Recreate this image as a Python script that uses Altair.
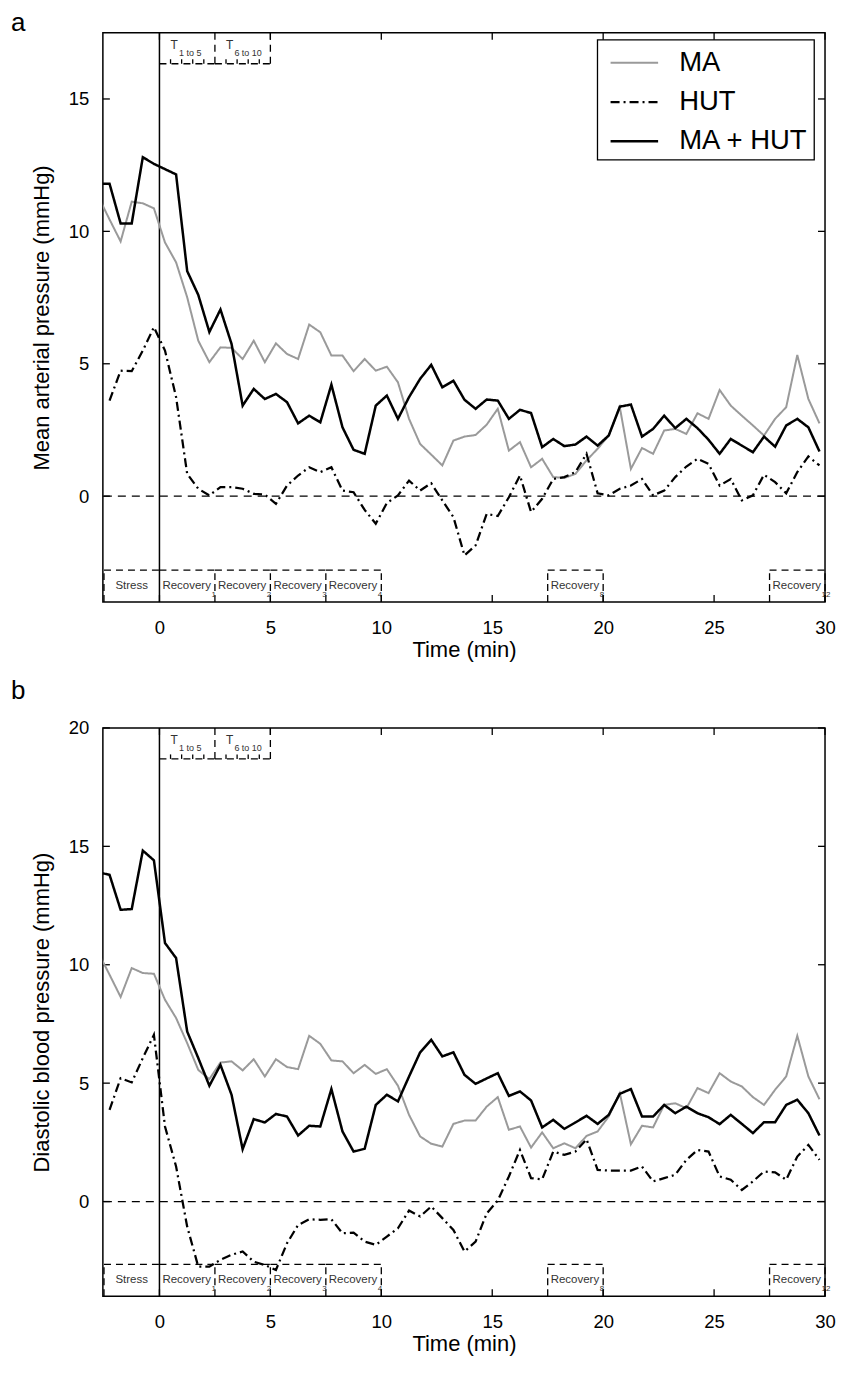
import altair as alt
import pandas as pd

FONT = "Liberation Sans"

# ---------------- data ----------------
time_min = [-2.75, -2.25, -1.75, -1.25, -0.75, -0.25, 0.25, 0.75, 1.25, 1.75,
            2.25, 2.75, 3.25, 3.75, 4.25, 4.75, 5.25, 5.75, 6.25, 6.75,
            7.25, 7.75, 8.25, 8.75, 9.25, 9.75, 10.25, 10.75, 11.25, 11.75,
            12.25, 12.75, 13.25, 13.75, 14.25, 14.75, 15.25, 15.75, 16.25, 16.75,
            17.25, 17.75, 18.25, 18.75, 19.25, 19.75, 20.25, 20.75, 21.25, 21.75,
            22.25, 22.75, 23.25, 23.75, 24.25, 24.75, 25.25, 25.75, 26.25, 26.75,
            27.25, 27.75, 28.25, 28.75, 29.25, 29.75]

# panel a: mean arterial pressure (mmHg)
ma_a = [11.3, 10.45, 9.62, 11.12, 11.06, 10.87, 9.58, 8.83, 7.51, 5.87,
        5.06, 5.62, 5.6, 5.18, 5.87, 5.06, 5.77, 5.37, 5.18, 6.48,
        6.19, 5.31, 5.31, 4.72, 5.18, 4.74, 4.89, 4.3, 2.92, 1.97,
        1.57, 1.16, 2.1, 2.25, 2.31, 2.7, 3.3, 1.72, 2.04, 1.09,
        1.41, 0.72, 0.69, 0.84, 1.35, 1.79, 2.29, 3.36, 1.03, 1.82,
        1.6, 2.48, 2.54, 2.35, 3.13, 2.92, 4.01, 3.42, 3.04, 2.67,
        2.29, 2.92, 3.36, 5.33, 3.67, 2.75]
hut_a = [None, 3.61, 4.74, 4.72, 5.5, 6.38, 5.5, 3.74, 0.84, 0.28,
         0.03, 0.34, 0.34, 0.28, 0.09, 0.06, -0.29, 0.4, 0.78, 1.09,
         0.91, 1.09, 0.21, 0.15, -0.52, -1.04, -0.26, 0.03, 0.59, 0.21,
         0.49, -0.16, -0.79, -2.24, -1.86, -0.67, -0.75, -0.04, 0.78, -0.6,
         -0.1, 0.65, 0.72, 0.91, 1.6, 0.11, 0.03, 0.28, 0.4, 0.65,
         0.03, 0.21, 0.72, 1.12, 1.41, 1.22, 0.4, 0.65, -0.16, 0.03,
         0.81, 0.53, 0.11, 0.91, 1.5, 1.16]
both_a = [11.8, 11.8, 10.3, 10.3, 12.8, 12.55, 12.35, 12.15, 8.5, 7.6,
          6.2, 7.05, 5.75, 3.42, 4.05, 3.67, 3.86, 3.55, 2.75, 3.04,
          2.79, 4.21, 2.6, 1.75, 1.6, 3.42, 3.8, 2.92, 3.74, 4.43,
          4.96, 4.11, 4.36, 3.64, 3.3, 3.65, 3.61, 2.92, 3.26, 3.14,
          1.85, 2.16, 1.89, 1.95, 2.25, 1.91, 2.29, 3.38, 3.46, 2.25,
          2.54, 3.04, 2.57, 2.92, 2.57, 2.13, 1.6, 2.16, 1.91, 1.66,
          2.25, 1.87, 2.67, 2.92, 2.6, 1.69]

# panel b: diastolic blood pressure (mmHg)
ma_b = [10.5, 9.58, 8.64, 9.86, 9.65, 9.62, 8.52, 7.75, 6.69, 5.56,
        5.17, 5.87, 5.92, 5.54, 6.01, 5.28, 6.01, 5.68, 5.59, 7.0,
        6.66, 5.96, 5.92, 5.42, 5.77, 5.39, 5.59, 4.89, 3.66, 2.75,
        2.44, 2.32, 3.28, 3.42, 3.42, 4.01, 4.41, 3.03, 3.17, 2.28,
        2.92, 2.25, 2.46, 2.25, 2.77, 2.96, 3.59, 4.58, 2.42, 3.2,
        3.13, 4.08, 4.15, 3.94, 4.79, 4.58, 5.42, 5.07, 4.86, 4.41,
        4.08, 4.72, 5.28, 7.0, 5.28, 4.32]
hut_b = [None, 3.87, 5.21, 5.03, 6.06, 7.04, 3.17, 1.48, -1.06, -2.75,
         -2.75, -2.46, -2.25, -2.11, -2.54, -2.68, -2.89, -1.76, -0.99, -0.75,
         -0.77, -0.75, -1.34, -1.31, -1.69, -1.83, -1.48, -1.13, -0.38, -0.63,
         -0.21, -0.7, -1.2, -2.11, -1.69, -0.5, 0.04, 1.06, 2.18, 0.99,
         0.94, 2.11, 1.97, 2.11, 2.63, 1.34, 1.31, 1.31, 1.31, 1.48,
         0.85, 0.99, 1.13, 1.76, 2.18, 2.11, 1.06, 0.92, 0.49, 0.85,
         1.27, 1.23, 0.92, 1.9, 2.39, 1.76]
both_b = [13.9, 13.8, 12.32, 12.35, 14.82, 14.41, 10.92, 10.28, 7.18, 6.06,
          4.89, 5.77, 4.51, 2.21, 3.48, 3.34, 3.7, 3.59, 2.79, 3.2,
          3.17, 4.75, 2.96, 2.11, 2.23, 4.08, 4.51, 4.23, 5.28, 6.3,
          6.83, 6.13, 6.3, 5.35, 4.97, 5.2, 5.42, 4.46, 4.65, 4.27,
          3.13, 3.45, 3.07, 3.34, 3.62, 3.28, 3.66, 4.55, 4.75, 3.59,
          3.59, 4.08, 3.73, 4.01, 3.73, 3.56, 3.27, 3.66, 3.28, 2.89,
          3.35, 3.35, 4.08, 4.3, 3.73, 2.79]

series_names = ["MA", "HUT", "MA + HUT"]
series_colors = ["#9a9a9a", "#000000", "#000000"]
series_dash = [[1, 0], [9, 4, 2, 4], [1, 0]]
series_width = [2.0, 2.5, 2.1]

phase_start = [-2.5, 0, 2.5, 5, 7.5, 17.5, 27.5]
phase_end = [0, 2.5, 5, 7.5, 10, 20, 30]
phase_label = ["Stress", "Recovery", "Recovery", "Recovery", "Recovery", "Recovery", "Recovery"]
phase_sub = ["", "1", "2", "3", "4", "8", "12"]

tblock_start = [0, 2.5]
tblock_end = [2.5, 5]
tblock_sub = ["1 to 5", "6 to 10"]
t_subticks = [0.5, 1.0, 1.5, 2.0, 3.0, 3.5, 4.0, 4.5]

x_ticks = [0, 5, 10, 15, 20, 25, 30]
x_min, x_max = -2.55, 30.0

W = 723


def build_panel(letter, ytitle, ymin, ymax, yticks, ma, hut, both, H, leg_y, title_off):
    ppu = H / (ymax - ymin)
    ppx = W / (x_max - x_min)
    rows = []
    for name, vals in zip(series_names, [ma, hut, both]):
        for t, v in zip(time_min, vals):
            if v is not None:
                rows.append({"t": t, "v": v, "series": name})
    df = pd.DataFrame(rows)

    xs = alt.Scale(domain=[x_min, x_max], nice=False, zero=False)
    ys = alt.Scale(domain=[ymin, ymax], nice=False, zero=False)
    xax = alt.Axis(values=x_ticks, title="Time (min)", labelFlush=False,
                   labelPadding=16, titlePadding=3)
    yax = alt.Axis(values=yticks, title=ytitle, labelPadding=14, titlePadding=15)

    def X(f):
        return alt.X(f, type="quantitative", scale=xs, axis=xax)

    def Y(f):
        return alt.Y(f, type="quantitative", scale=ys, axis=yax)

    leg = alt.Legend(orient="none", legendX=495, legendY=leg_y, title=None,
                     labelFont=FONT, labelFontSize=27.5, labelColor="black",
                     symbolType="M-0.6,0H2.2", symbolSize=34 * 34,
                     strokeColor="black", fillColor="white",
                     padding=5, rowPadding=7, labelOffset=40)

    lines = alt.Chart(df).mark_line(clip=True).encode(
        x=X("t"), y=Y("v"),
        color=alt.Color("series:N", scale=alt.Scale(domain=series_names, range=series_colors),
                        legend=leg, sort=series_names),
        strokeDash=alt.StrokeDash("series:N", scale=alt.Scale(domain=series_names, range=series_dash),
                                  legend=leg, sort=series_names),
        strokeWidth=alt.StrokeWidth("series:N", scale=alt.Scale(domain=series_names, range=series_width),
                                    legend=leg, sort=series_names),
        order=alt.Order("t:Q"),
    )

    zero_line = alt.Chart(pd.DataFrame({"v": [0]})).mark_rule(
        color="black", strokeWidth=1.3, strokeDash=[8, 6]).encode(y=Y("v"))
    stress_end = alt.Chart(pd.DataFrame({"t": [0]})).mark_rule(
        color="black", strokeWidth=1.5).encode(x=X("t"))

    # bottom phase boxes
    box_top = ymin + 32 / ppu
    bdf = pd.DataFrame({"s": phase_start, "e": phase_end, "label": phase_label, "sub": phase_sub})
    bdf["mid"] = (bdf["s"] + bdf["e"]) / 2
    bdf["top"] = box_top
    bdf["bot"] = ymin
    box_tops = alt.Chart(bdf).mark_rule(color="black", strokeWidth=1.3, strokeDash=[7, 5]).encode(
        x=X("s"), x2="e", y=Y("top"))
    edges = sorted(set(phase_start + phase_end) - {0})
    edf = pd.DataFrame({"t": edges, "bot": ymin, "top": box_top})
    box_sides = alt.Chart(edf).mark_rule(color="black", strokeWidth=1.3, strokeDash=[7, 4]).encode(
        x=X("t"), y=Y("bot"), y2="top")
    stress_txt = alt.Chart(bdf[bdf["label"] == "Stress"]).mark_text(
        font=FONT, fontSize=11.5, color="#333", align="center", baseline="alphabetic", dy=-13).encode(
        x=X("mid"), y=Y("bot"), text="label")
    rec = bdf[bdf["label"] != "Stress"]
    rec_txt = alt.Chart(rec).mark_text(
        font=FONT, fontSize=11.5, color="#333", align="left", baseline="alphabetic", dx=3, dy=-13).encode(
        x=X("s"), y=Y("bot"), text="label")
    rec_sub = alt.Chart(rec).mark_text(
        font=FONT, fontSize=8, color="#333", align="left", baseline="alphabetic", dx=52, dy=-5).encode(
        x=X("s"), y=Y("bot"), text="sub")

    # top T blocks
    t_bot = ymax - 31 / ppu
    tdf = pd.DataFrame({"s": tblock_start, "e": tblock_end, "sub": tblock_sub,
                        "T": ["T", "T"], "bot": t_bot, "top": ymax})
    t_bottom = alt.Chart(tdf).mark_rule(color="black", strokeWidth=1.3, strokeDash=[7, 5]).encode(
        x=X("s"), x2="e", y=Y("bot"))
    t_sides = alt.Chart(tdf).mark_rule(color="black", strokeWidth=1.3, strokeDash=[7, 5]).encode(
        x=X("e"), y=Y("bot"), y2="top")
    sdf = pd.DataFrame({"t": t_subticks, "bot": t_bot, "top": t_bot + 4.5 / ppu})
    t_ticks = alt.Chart(sdf).mark_rule(color="black", strokeWidth=1.3).encode(
        x=X("t"), y=Y("bot"), y2="top")
    t_T = alt.Chart(tdf).mark_text(font=FONT, fontSize=12, color="#333", align="left",
                                   baseline="alphabetic", dx=11, dy=16.5).encode(
        x=X("s"), y=Y("top"), text="T")
    t_S = alt.Chart(tdf).mark_text(font=FONT, fontSize=9, color="#333", align="left",
                                   baseline="alphabetic", dx=19.5, dy=23).encode(
        x=X("s"), y=Y("top"), text="sub")

    # inward ticks on all four sides
    tk = 7
    xb = pd.DataFrame({"t": x_ticks, "a": ymin, "b": ymin + tk / ppu})
    xt = pd.DataFrame({"t": x_ticks, "a": ymax - tk / ppu, "b": ymax})
    yl = pd.DataFrame({"v": yticks, "a": x_min, "b": x_min + tk / ppx})
    yr = pd.DataFrame({"v": yticks, "a": x_max - tk / ppx, "b": x_max})
    tick_layers = [
        alt.Chart(xb).mark_rule(color="black", strokeWidth=1.3).encode(x=X("t"), y=Y("a"), y2="b"),
        alt.Chart(xt).mark_rule(color="black", strokeWidth=1.3).encode(x=X("t"), y=Y("a"), y2="b"),
        alt.Chart(yl).mark_rule(color="black", strokeWidth=1.3).encode(y=Y("v"), x=X("a"), x2="b"),
        alt.Chart(yr).mark_rule(color="black", strokeWidth=1.3).encode(y=Y("v"), x=X("a"), x2="b"),
    ]

    layers = [zero_line, stress_end, box_tops, box_sides, stress_txt, rec_txt, rec_sub,
              t_bottom, t_sides, t_ticks, t_T, t_S] + tick_layers + [lines]
    return alt.layer(*layers).properties(
        width=W, height=H,
        title=alt.TitleParams(text=letter, anchor="start", frame="group", fontSize=26,
                              fontWeight="normal", font=FONT, dx=-92, offset=title_off,
                              color="black"),
    )


pa = build_panel("a", "Mean arterial pressure (mmHg)", -4, 17.5, [0, 5, 10, 15],
                 ma_a, hut_a, both_a, 570, 7, -4)
pb = build_panel("b", "Diastolic blood pressure (mmHg)", -4, 20, [0, 5, 10, 15, 20],
                 ma_b, hut_b, both_b, 569, 7, 15)

chart = alt.vconcat(pa, pb, spacing=15).properties(
    padding={"left": 10, "top": 8, "right": 4, "bottom": 2}
).configure_view(
    stroke="black", strokeWidth=1.5
).configure_axis(
    labelFont=FONT, titleFont=FONT, labelFontSize=18.5, titleFontSize=22,
    titleFontWeight="normal", labelColor="black", titleColor="black",
    ticks=False, domain=False, grid=False
).configure_legend(
    strokeWidth=1.3
)

chart.save("out.html", embed_options={"renderer": "svg", "actions": False})
